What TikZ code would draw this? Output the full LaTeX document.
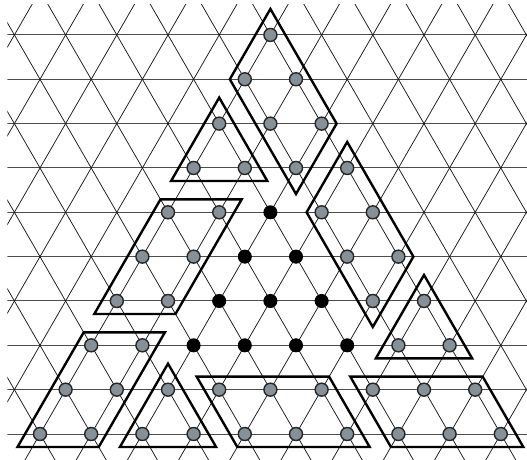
\documentclass[tikz,border=0pt]{standalone}
\usetikzlibrary{calc}
\definecolor{nodegray}{RGB}{134,144,151}
\tikzset{
  hline/.style={draw=black!70, line width=1pt},
  dline/.style={draw=black!90, line width=0.75pt},
  group/.style={draw=black, line width=2.4pt, line join=miter},
  gnode/.style={circle, fill=nodegray, draw=black!85, line width=1.4pt, inner sep=0pt, minimum size=13pt},
  bnode/.style={circle, fill=black, draw=black, line width=1pt, inner sep=0pt, minimum size=13pt},
}
\begin{document}
\begin{tikzpicture}[x={(51.2pt,0pt)}, y={(25.6pt,44.34pt)}]
\useasboundingbox (-40pt,-25pt) rectangle (487pt,434pt);
% lattice
\begin{scope}
  \clip (-32.7pt,-25pt) rectangle (487pt,429pt);
  \foreach \r in {0,...,9} { \draw[hline] (-10,\r) -- (14,\r); }
  \foreach \u in {-9,...,11} { \draw[dline] (\u,-2) -- (\u,12); }
  \foreach \w in {-2,...,22} { \draw[dline] (\w+2,-2) -- (\w-12,12); }
\end{scope}
% coordinates
\foreach \r in {0,...,9} {
  \pgfmathtruncatemacro\umax{9-\r}
  \foreach \u in {0,...,\umax} { \coordinate (c-\u-\r) at (\u,\r); }
}
% groups
% rhombi
\draw[group] ($(c-0-9)+(0pt,26pt)$) -- ($(c-2-7)+(15pt,0pt)$) -- ($(c-2-6)+(0pt,-26pt)$) -- ($(c-0-8)+(-15pt,0pt)$) -- cycle;
\draw[group] ($(c-3-6)+(0pt,26pt)$) -- ($(c-5-4)+(15pt,0pt)$) -- ($(c-5-3)+(0pt,-26pt)$) -- ($(c-3-5)+(-15pt,0pt)$) -- cycle;
% triangles
\draw[group] ($(c-0-7)+(0pt,26pt)$) -- ($(c-1-6)+(22.5pt,-13pt)$) -- ($(c-0-6)+(-22.5pt,-13pt)$) -- cycle;
\draw[group] ($(c-6-3)+(0pt,26pt)$) -- ($(c-7-2)+(22.5pt,-13pt)$) -- ($(c-6-2)+(-22.5pt,-13pt)$) -- cycle;
\draw[group] ($(c-2-1)+(0pt,26pt)$) -- ($(c-3-0)+(22.5pt,-13pt)$) -- ($(c-2-0)+(-22.5pt,-13pt)$) -- cycle;
% parallelograms leaning left
\draw[group] ($(c-0-5)+(-7.5pt,13pt)$) -- ($(c-1-5)+(22.5pt,13pt)$) -- ($(c-1-3)+(7.5pt,-13pt)$) -- ($(c-0-3)+(-22.5pt,-13pt)$) -- cycle;
\draw[group] ($(c-0-2)+(-7.5pt,13pt)$) -- ($(c-1-2)+(22.5pt,13pt)$) -- ($(c-1-0)+(7.5pt,-13pt)$) -- ($(c-0-0)+(-22.5pt,-13pt)$) -- cycle;
% parallelograms leaning right
\draw[group] ($(c-3-1)+(-22.5pt,13pt)$) -- ($(c-5-1)+(7.5pt,13pt)$) -- ($(c-6-0)+(22.5pt,-13pt)$) -- ($(c-4-0)+(-7.5pt,-13pt)$) -- cycle;
\draw[group] ($(c-6-1)+(-22.5pt,13pt)$) -- ($(c-8-1)+(7.5pt,13pt)$) -- ($(c-9-0)+(22.5pt,-13pt)$) -- ($(c-7-0)+(-7.5pt,-13pt)$) -- cycle;
% nodes
\foreach \r in {0,...,9} {
  \pgfmathtruncatemacro\umax{9-\r}
  \foreach \u in {0,...,\umax} {
    \pgfmathtruncatemacro\isin{and(and(\r>1,\u>1),\u+\r<8)}
    \ifnum\isin=1 \def\sty{bnode}\else\def\sty{gnode}\fi
    \node[\sty] (n-\u-\r) at (c-\u-\r) {};
  }
}
\end{tikzpicture}
\end{document}
